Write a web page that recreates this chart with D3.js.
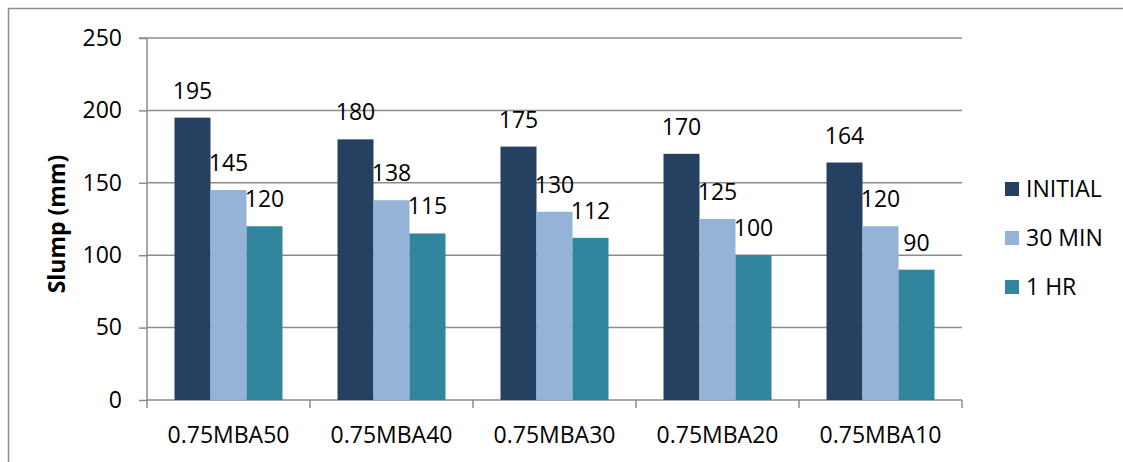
<!DOCTYPE html>
<html>
<head>
<meta charset="utf-8">
<script src="https://cdn.jsdelivr.net/npm/d3@7"></script>
<style>
  body { margin: 0; background: #fff; overflow: hidden; }
  svg { display: block; }
  text { font-family: "Open Sans", sans-serif; fill: #000; }
</style>
</head>
<body>
<svg id="chart"></svg>
<script>
// Data
var categories = ["0.75MBA50", "0.75MBA40", "0.75MBA30", "0.75MBA20", "0.75MBA10"];
var seriesNames = ["INITIAL", "30 MIN", "1 HR"];
var initialValues = [195, 180, 175, 170, 164];
var min30Values = [145, 138, 130, 125, 120];
var hr1Values = [120, 115, 112, 100, 90];
var yTicks = [0, 50, 100, 150, 200, 250];

var colors = ["#254061", "#95b3d7", "#31859c"];
var seriesValues = [initialValues, min30Values, hr1Values];

// Size of the page
var W = 1123, H = 462;
var plot = {left: 147, right: 962, top: 38, bottom: 400};

var svg = d3.select("#chart")
  .attr("width", W)
  .attr("height", H);

// outer frame
svg.append("rect")
  .attr("x", 8.5).attr("y", 8.5)
  .attr("width", W).attr("height", H)
  .attr("fill", "none")
  .attr("stroke", "#8c8c8c")
  .attr("stroke-width", 1.5);

// Scales
var x = d3.scaleBand()
  .domain(categories)
  .range([plot.left, plot.right]);

var xs = d3.scaleBand()
  .domain(seriesNames)
  .range([27.5, x.bandwidth() - 27.5]);

var y = d3.scaleLinear()
  .domain([0, 250])
  .range([plot.bottom, plot.top]);

// grid lines
svg.append("g")
  .selectAll("line")
  .data(yTicks.filter(function(d) { return d > 0; }))
  .enter()
.append("line")
  .attr("x1", plot.left).attr("x2", plot.right)
  .attr("y1", function(d) { return y(d); })
  .attr("y2", function(d) { return y(d); })
  .attr("stroke", "#8c8c8c")
  .attr("stroke-width", 1.5);

// y axis
var yaxis = d3.axisLeft(y).tickValues(yTicks).tickSize(8).tickPadding(17);
var gy = svg.append("g")
  .attr("transform", "translate(" + plot.left + ",0)")
  .call(yaxis);
gy.select(".domain").attr("stroke", "#8c8c8c").attr("stroke-width", 1.5)
  .attr("d", "M-8," + plot.top + "H0V" + plot.bottom);
gy.selectAll(".tick line").attr("stroke", "#8c8c8c").attr("stroke-width", 1.5);
gy.selectAll(".tick text")
  .style("font-family", "'Open Sans', sans-serif")
  .style("font-size", "23px")
  .attr("fill", "#000");

// x axis, ticks sit on the category boundaries
var gx = svg.append("g")
  .attr("transform", "translate(0," + plot.bottom + ")");
gx.append("line")
  .attr("x1", plot.left).attr("x2", plot.right)
  .attr("stroke", "#8c8c8c").attr("stroke-width", 1.5);
var bounds = categories.map(function(c) { return x(c); }).concat([plot.right]);
gx.selectAll(".xtick")
  .data(bounds)
  .enter()
.append("line")
  .attr("x1", function(d) { return d; }).attr("x2", function(d) { return d; })
  .attr("y1", 0).attr("y2", 8)
  .attr("stroke", "#8c8c8c").attr("stroke-width", 1.5);
gx.selectAll(".xlabel")
  .data(categories)
  .enter()
.append("text")
  .attr("x", function(d) { return x(d) + x.bandwidth() / 2; })
  .attr("y", 43)
  .attr("text-anchor", "middle")
  .style("font-size", "23px")
  .text(function(d) { return d; });

// bars
var groups = svg.selectAll(".grp")
  .data(categories)
  .enter()
.append("g")
  .attr("transform", function(d) { return "translate(" + x(d) + ",0)"; });

seriesNames.forEach(function(s, si) {
  groups.append("rect")
    .attr("x", xs(s))
    .attr("width", xs.bandwidth())
    .attr("y", function(d, i) { return y(seriesValues[si][i]); })
    .attr("height", function(d, i) { return plot.bottom - y(seriesValues[si][i]); })
    .attr("fill", colors[si]);

  groups.append("text")
    .attr("x", xs(s) + xs.bandwidth() / 2)
    .attr("y", function(d, i) { return y(seriesValues[si][i]) - 19; })
    .attr("text-anchor", "middle")
    .style("font-size", "23px")
    .text(function(d, i) { return seriesValues[si][i]; });
});

// y axis title
svg.append("text")
  .attr("transform", "translate(65,224) rotate(-90)")
  .attr("text-anchor", "middle")
  .style("font-size", "23px")
  .style("font-weight", "bold")
  .text("Slump (mm)");

// legend
var legend = svg.selectAll(".legend")
  .data(seriesNames)
  .enter()
.append("g")
  .attr("transform", function(d, i) { return "translate(1005," + (189 + i * 49) + ")"; });
legend.append("rect")
  .attr("x", 0).attr("y", -7)
  .attr("width", 14).attr("height", 14)
  .attr("fill", function(d, i) { return colors[i]; });
legend.append("text")
  .attr("x", 21).attr("y", 8)
  .style("font-size", "23px")
  .text(function(d) { return d; });
</script>
</body>
</html>
